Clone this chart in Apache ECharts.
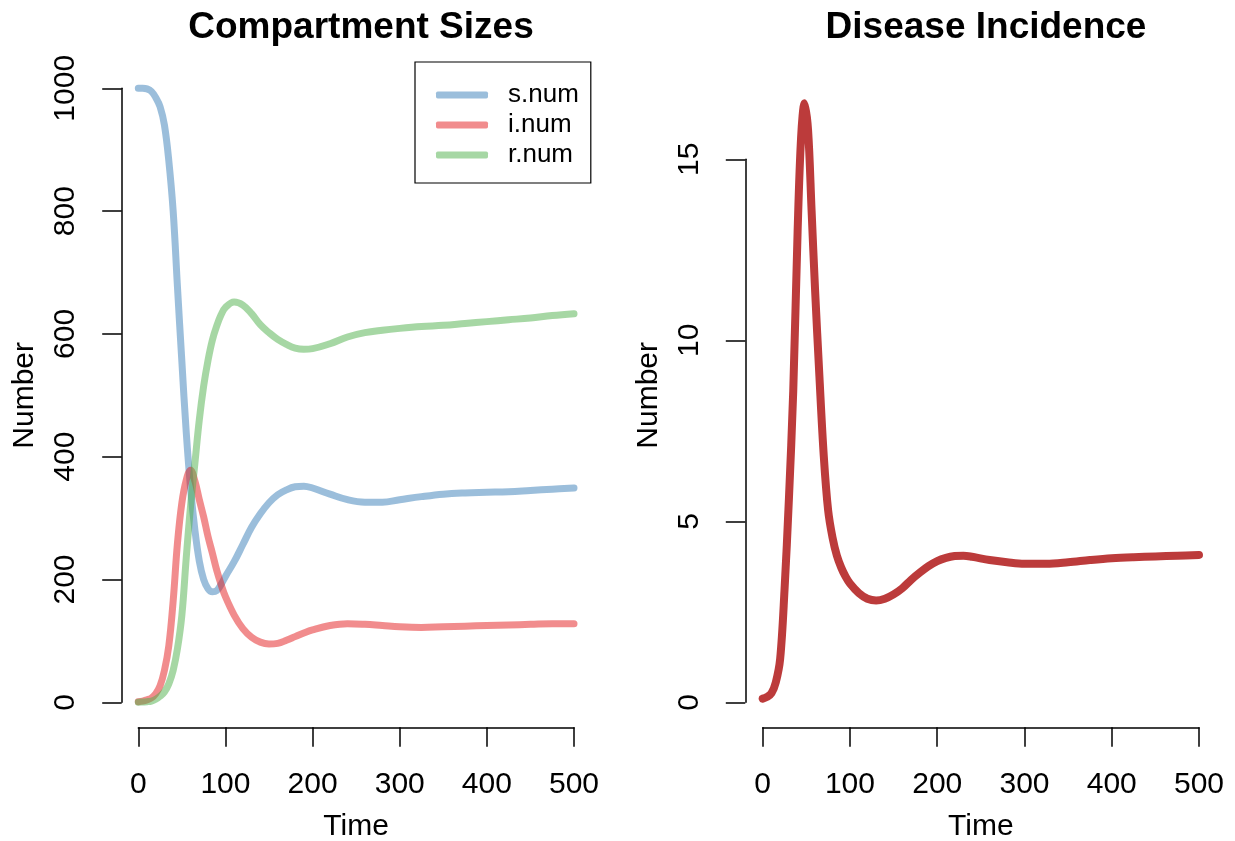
<!DOCTYPE html>
<html>
<head>
<meta charset="utf-8">
<script src="https://cdn.jsdelivr.net/npm/echarts@6/dist/echarts.min.js"></script>
<style>
  html, body { margin: 0; padding: 0; background: #fff; }
  #chart { width: 1235px; height: 841px; }
</style>
</head>
<body>
<div id="chart"></div>
<script>
// ---- data ----
const times = [0,5,10,15,20,25,30,35,40,45,50,55,60,65,70,75,80,85,90,95,100,110,120,130,140,150,160,170,180,190,200,220,240,260,280,300,325,350,375,400,425,450,475,500];
const sNum = [1000,1000,999,995,985,970,940,882,800,675,555,440,348,280,230,200,185,180,182,192,205,229,257,285,307,325,338,346,351,352,349,339,330,326,326,330,335,339,341,342,343,345,347,349];
const iNum = [1,2,4,7,14,27,52,92,165,260,325,362,378,360,330,302,270,243,215,192,172,142,120,106,98,95,96,101,107,113,118,125,128,127,125,123,122,123,124,125,126,127,128,128];
const rNum = [0,0.5,1,2,5,10,17,30,52,88,142,235,320,390,460,515,557,590,613,631,643,652,647,633,615,602,591,583,577,575,576,584,595,602,606,609,612,614,617,620,623,626,630,633];

const incTimes = [0,5,10,15,20,25,30,35,40,44,48,52,56,60,65,70,75,80,85,90,95,100,110,120,130,140,150,160,170,180,190,200,210,220,230,240,260,280,300,325,350,375,400,425,450,475,500];
const incidence = [0.1,0.15,0.25,0.55,1.2,3.1,5.6,8.6,13.0,15.6,16.55,15.8,13.6,11.4,9.0,6.8,5.3,4.55,4.05,3.72,3.47,3.28,3.02,2.86,2.81,2.86,2.98,3.15,3.38,3.58,3.76,3.9,3.99,4.04,4.05,4.02,3.93,3.87,3.83,3.83,3.87,3.93,3.98,4.01,4.03,4.05,4.07];

const seriesNames = ['s.num', 'i.num', 'r.num'];
const titles = ['Compartment Sizes', 'Disease Incidence'];
const xName = 'Time';
const yName = 'Number';

// ---- chart ----
const FONT = "'Liberation Sans', Arial, Helvetica, sans-serif";
const pairs = (xs, ys) => xs.map((x, i) => [x, ys[i]]);
const colors = ['rgba(55,126,184,0.5)', 'rgba(228,26,28,0.5)', 'rgba(77,175,74,0.5)'];

const axisCommon = {
  axisLine: { show: true, onZero: false, lineStyle: { color: '#000', width: 1.5 } },
  axisTick: { show: true, inside: false, length: 19.5, lineStyle: { color: '#000', width: 1.5 } },
  splitLine: { show: false },
  nameLocation: 'middle'
};
const nameStyle = { color: '#000', fontSize: 30, fontFamily: FONT };
const fmt = v => String(v);
const xLabel = { color: '#000', fontSize: 30, fontFamily: FONT, margin: 42, formatter: fmt, showMinLabel: true, showMaxLabel: true, hideOverlap: false };
const yLabel = { color: '#000', fontSize: 30, fontFamily: FONT, margin: 41, rotate: 90, formatter: fmt, showMinLabel: true, showMaxLabel: true, hideOverlap: false };

const chart = echarts.init(document.getElementById('chart'), null, { renderer: 'canvas' });
chart.setOption({
  backgroundColor: '#fff',
  animation: false,
  title: [
    { text: titles[0], left: 356, top: 4, textAlign: 'center',
      textStyle: { fontSize: 37, fontWeight: 'bold', color: '#000', fontFamily: FONT } },
    { text: titles[1], left: 981, top: 4, textAlign: 'center',
      textStyle: { fontSize: 37, fontWeight: 'bold', color: '#000', fontFamily: FONT } }
  ],
  legend: {
    data: seriesNames,
    orient: 'vertical',
    left: 415, top: 62,
    padding: [18, 12, 13, 21],
    itemGap: 0,
    itemWidth: 52, itemHeight: 7,
    icon: 'roundRect',
    borderColor: '#000', borderWidth: 1.2, borderRadius: 0,
    selectedMode: false,
    textStyle: { fontSize: 26, color: '#000', fontFamily: FONT, lineHeight: 30, padding: [0, 0, 0, 15] }
  },
  grid: [
    { left: 138.3, top: 88.3, width: 435.7, height: 614, outerBoundsMode: 'none', containLabel: false },
    { left: 762.7, top: 159.3, width: 436.3, height: 543, outerBoundsMode: 'none', containLabel: false }
  ],
  xAxis: [
    Object.assign({}, axisCommon, { gridIndex: 0, type: 'value', min: 0, max: 500, interval: 100, offset: 25,
      name: xName, nameGap: 84, nameTextStyle: nameStyle, axisLabel: xLabel }),
    Object.assign({}, axisCommon, { gridIndex: 1, type: 'value', min: 0, max: 500, interval: 100, offset: 25,
      name: xName, nameGap: 84, nameTextStyle: nameStyle, axisLabel: xLabel })
  ],
  yAxis: [
    Object.assign({}, axisCommon, { gridIndex: 0, type: 'value', min: 0, max: 1000, interval: 200, offset: 16.6,
      name: yName, nameGap: 82, nameRotate: 90, nameTextStyle: nameStyle, axisLabel: yLabel }),
    Object.assign({}, axisCommon, { gridIndex: 1, type: 'value', min: 0, max: 15, interval: 5, offset: 17.4,
      name: yName, nameGap: 82, nameRotate: 90,
      nameTextStyle: Object.assign({}, nameStyle, { padding: [0, 0, 0, 71] }), axisLabel: yLabel })
  ],
  series: [
    { name: seriesNames[0], type: 'line', xAxisIndex: 0, yAxisIndex: 0, data: pairs(times, sNum) },
    { name: seriesNames[1], type: 'line', xAxisIndex: 0, yAxisIndex: 0, data: pairs(times, iNum) },
    { name: seriesNames[2], type: 'line', xAxisIndex: 0, yAxisIndex: 0, data: pairs(times, rNum) }
  ].map((s, k) => Object.assign(s, {
    showSymbol: false, symbol: 'none', smooth: 0.4, clip: false,
    itemStyle: { color: colors[k] },
    lineStyle: { color: colors[k], width: 7, cap: 'round', join: 'round' },
    emphasis: { disabled: true }
  })).concat([
    { name: 'incidence', type: 'line', xAxisIndex: 1, yAxisIndex: 1, data: pairs(incTimes, incidence),
      showSymbol: false, symbol: 'none', smooth: 0.35, clip: false,
      itemStyle: { color: '#BC3B3B' },
      lineStyle: { color: '#BC3B3B', width: 8, cap: 'round', join: 'round' },
      emphasis: { disabled: true } }
  ])
});
</script>
</body>
</html>
